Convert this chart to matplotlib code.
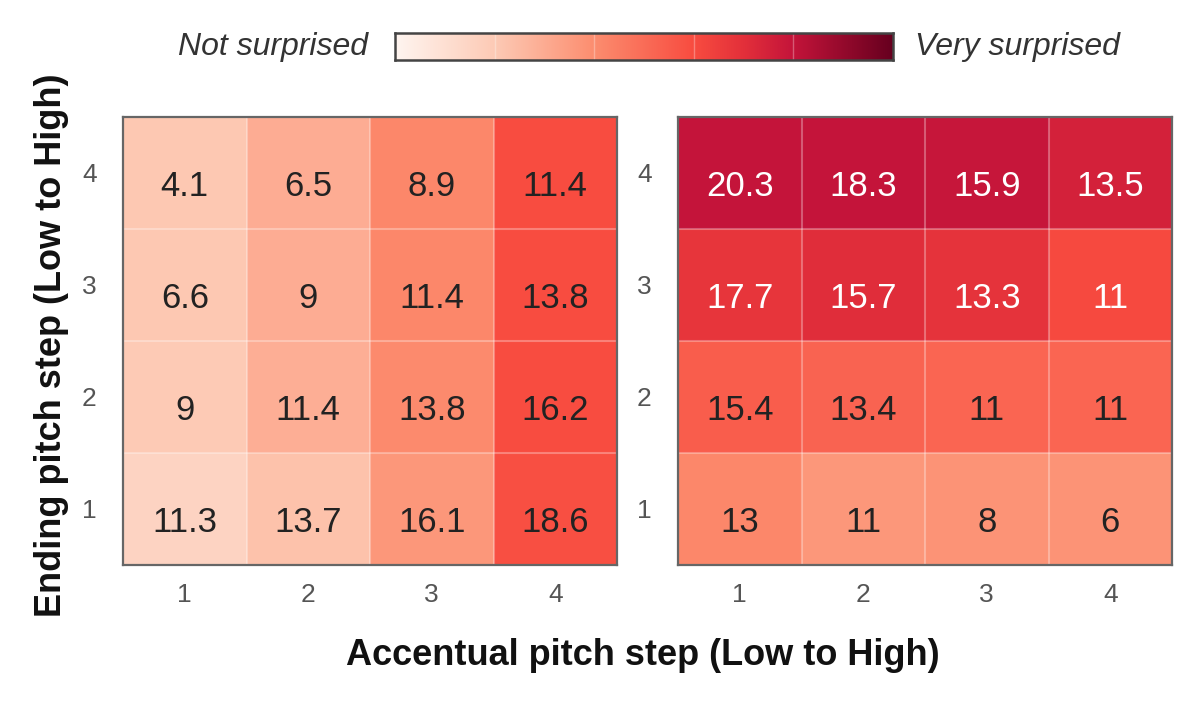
import numpy as np
import matplotlib
matplotlib.use("Agg")
import matplotlib.pyplot as plt
from matplotlib.colors import LinearSegmentedColormap

plt.rcParams['font.family'] = ['Liberation Sans', 'DejaVu Sans']

# pitch steps 1..4 (rows = ending step, bottom to top; cols = accentual step)
steps = [1, 2, 3, 4]

# printed values, row index 0 = ending step 1
vals_left = [[11.3, 13.7, 16.1, 18.6],
             [9, 11.4, 13.8, 16.2],
             [6.6, 9, 11.4, 13.8],
             [4.1, 6.5, 8.9, 11.4]]
vals_right = [[13, 11, 8, 6],
              [15.4, 13.4, 11, 11],
              [17.7, 15.7, 13.3, 11],
              [20.3, 18.3, 15.9, 13.5]]

# cell shade (0 = not surprised, 1 = very surprised)
shade_left = [[0.16, 0.23, 0.37, 0.59],
              [0.20, 0.29, 0.41, 0.60],
              [0.21, 0.30, 0.42, 0.60],
              [0.21, 0.30, 0.42, 0.60]]
shade_right = [[0.42, 0.37, 0.38, 0.38],
               [0.55, 0.53, 0.52, 0.52],
               [0.68, 0.71, 0.69, 0.61],
               [0.80, 0.80, 0.79, 0.75]]
white_text_right = [[0, 0, 0, 0], [0, 0, 0, 0], [1, 1, 1, 1], [1, 1, 1, 1]]

cmap = LinearSegmentedColormap.from_list('surprise', [
    (0.0, '#fff5f0'), (0.2, '#fdcab5'), (0.4, '#fc8d6f'), (0.6, '#f84c40'),
    (0.7, '#e3303a'), (0.8, '#c4143a'), (1.0, '#67001f')])

fig = plt.figure(figsize=(12, 7.09), dpi=100)
ax1 = fig.add_axes([0.1025, 0.2031, 0.4117, 0.6319])
ax2 = fig.add_axes([0.565, 0.2031, 0.4117, 0.6319])

def draw_panel(ax, vals, shade, white=None):
    shade = np.array(shade)
    ax.pcolormesh(np.arange(0.5, 5), np.arange(0.5, 5), shade, cmap=cmap,
                  vmin=0, vmax=1)
    for k in np.arange(1.5, 4.5):
        ax.axvline(k, color='white', lw=1.5, alpha=0.3)
        ax.axhline(k, color='white', lw=1.5, alpha=0.3)
    for i in range(4):
        for j in range(4):
            c = 'white' if (white is not None and white[i][j]) else '#222222'
            ax.text(steps[j], steps[i] - 0.12, f"{vals[i][j]:g}", ha='center',
                    va='center', fontsize=25, color=c)
    ax.set_xlim(0.5, 4.5)
    ax.set_ylim(0.5, 4.5)
    ax.set_xticks(steps)
    ax.set_yticks(steps)
    ax.tick_params(length=0, labelsize=19, labelcolor='#555555', pad=13)
    ax.tick_params(axis='y', pad=19)
    for sp in ax.spines.values():
        sp.set_color('#666666')
        sp.set_linewidth(1.6)

draw_panel(ax1, vals_left, shade_left)
draw_panel(ax2, vals_right, shade_right, white_text_right)

# colour key
cax = fig.add_axes([0.3292, 0.9154, 0.415, 0.038])
grad = np.linspace(0, 1, 256).reshape(1, -1)
cax.imshow(grad, aspect='auto', cmap=cmap, extent=[0, 1, 0, 1])
for k in [0.2, 0.4, 0.6, 0.8]:
    cax.axvline(k, color='white', lw=1, alpha=0.3)
cax.set_xticks([])
cax.set_yticks([])
for sp in cax.spines.values():
    sp.set_color('#444444')
    sp.set_linewidth(1.8)
cax.text(-0.054, 0.5, 'Not surprised', transform=cax.transAxes, ha='right',
         va='center', fontsize=23, style='italic', color='#333333')
cax.text(1.044, 0.5, 'Very surprised', transform=cax.transAxes, ha='left',
         va='center', fontsize=23, style='italic', color='#333333')

fig.text(0.536, 0.076, 'Accentual pitch step (Low to High)', ha='center',
         va='center', fontsize=26, fontweight='bold', color='#111111')
fig.text(0.043, 0.513, 'Ending pitch step (Low to High)', ha='center',
         va='center', rotation=90, fontsize=26, fontweight='bold',
         color='#111111')

plt.savefig('out.png', dpi=100)
